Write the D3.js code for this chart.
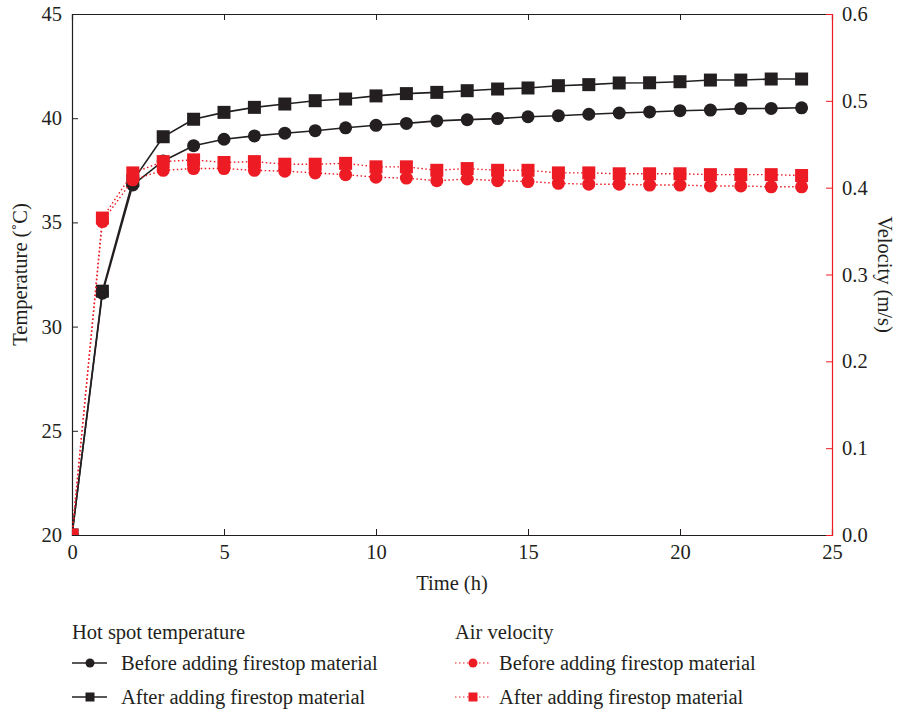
<!DOCTYPE html>
<html>
<head>
<meta charset="utf-8">
<script src="https://cdn.jsdelivr.net/npm/d3@7/dist/d3.min.js"></script>
<style>
  body { margin: 0; background: #fff; }
  svg text { font-family: "Liberation Serif", "DejaVu Serif", serif; fill: #231f20; }
</style>
</head>
<body>
<div id="chart"></div>
<script>
// --- data ---
const hours = d3.range(0, 25);
const tempBefore = [20.0, 31.6, 36.8, 37.95, 38.68, 38.99, 39.15, 39.28, 39.4, 39.54, 39.66, 39.75, 39.87, 39.93, 39.98, 40.07, 40.12, 40.19, 40.25, 40.3, 40.36, 40.39, 40.46, 40.47, 40.5];
const tempAfter = [20.0, 31.7, 37.0, 39.11, 39.95, 40.28, 40.52, 40.68, 40.84, 40.92, 41.07, 41.18, 41.24, 41.32, 41.4, 41.45, 41.56, 41.61, 41.69, 41.7, 41.75, 41.83, 41.83, 41.88, 41.88];
const velBefore = [0.0, 0.361, 0.409, 0.42, 0.422, 0.422, 0.42, 0.419, 0.417, 0.415, 0.412, 0.411, 0.408, 0.41, 0.408, 0.407, 0.405, 0.404, 0.404, 0.403, 0.403, 0.402, 0.402, 0.401, 0.401];
const velAfter = [0.0, 0.365, 0.417, 0.43, 0.432, 0.429, 0.43, 0.427, 0.427, 0.428, 0.424, 0.424, 0.42, 0.422, 0.42, 0.42, 0.417, 0.417, 0.416, 0.416, 0.416, 0.415, 0.415, 0.415, 0.414];
const xTicks = [0, 5, 10, 15, 20, 25];
const tempTicks = [20, 25, 30, 35, 40, 45];
const velTicks = [0.0, 0.1, 0.2, 0.3, 0.4, 0.5, 0.6];
const seriesNames = ["Before adding firestop material", "After adding firestop material"];

const width = 898, height = 712;
const margin = { top: 14, right: 66, bottom: 177, left: 72 };
const black = "#231f20", red = "#ed1c24";

const svg = d3.select("#chart").append("svg")
    .attr("width", width)
    .attr("height", height);

const x = d3.scaleLinear().domain([0, 25]).range([margin.left, width - margin.right]);
const yT = d3.scaleLinear().domain([20, 45]).range([height - margin.bottom, margin.top]);
const yV = d3.scaleLinear().domain([0, 0.6]).range([height - margin.bottom, margin.top]);

// clip marks to the plot frame (the t=0 markers are cut in the reference)
svg.append("clipPath").attr("id", "plot-clip")
  .append("rect")
    .attr("x", x(0)).attr("y", yT(45))
    .attr("width", x(25) - x(0)).attr("height", yT(20) - yT(45));

// --- axes (ticks point inward) ---
const fontSize = "20.5px";
const gBottom = svg.append("g")
    .attr("transform", `translate(0,${yT(20)})`)
    .call(d3.axisBottom(x).tickValues(xTicks).tickSize(-6).tickPadding(9).tickFormat(d3.format("d")));
const gTop = svg.append("g")
    .attr("transform", `translate(0,${yT(45)})`)
    .call(d3.axisTop(x).tickValues(xTicks).tickSize(-6).tickFormat(""));
const gLeft = svg.append("g")
    .attr("transform", `translate(${x(0)},0)`)
    .call(d3.axisLeft(yT).tickValues(tempTicks).tickSize(-6).tickPadding(10).tickFormat(d3.format("d")));
const gRight = svg.append("g")
    .attr("transform", `translate(${x(25)},0)`)
    .call(d3.axisRight(yV).tickValues(velTicks).tickSize(-6).tickPadding(10).tickFormat(d3.format(".1f")));

[gBottom, gTop, gLeft].forEach(g => {
    g.select(".domain").attr("stroke", black).attr("stroke-width", 1.2);
    g.selectAll(".tick line").attr("stroke", black);
    g.selectAll(".tick text").style("font-size", fontSize).attr("fill", black);
});
gRight.select(".domain").attr("stroke", red).attr("stroke-width", 1.2);
gRight.selectAll(".tick line").attr("stroke", red);
gRight.selectAll(".tick text").style("font-size", fontSize).attr("fill", black);
// hide end ticks that sit on the frame
gBottom.selectAll(".tick line").filter(d => d === 0 || d === 25).remove();
gTop.selectAll(".tick line").filter(d => d === 0 || d === 25).remove();
gLeft.selectAll(".tick line").filter(d => d === 20 || d === 45).remove();
gRight.selectAll(".tick line").filter(d => d === 0 || d === 0.6).remove();

// axis titles
svg.append("text")
    .attr("x", (x(0) + x(25)) / 2)
    .attr("y", 590)
    .attr("text-anchor", "middle")
    .style("font-size", fontSize)
    .text("Time (h)");
svg.append("text")
    .attr("transform", `translate(27,${yT(32.5)}) rotate(-90)`)
    .attr("text-anchor", "middle")
    .style("font-size", fontSize)
    .text("Temperature (˚C)");
svg.append("text")
    .attr("transform", `translate(878,${yT(32.5)}) rotate(90)`)
    .attr("text-anchor", "middle")
    .style("font-size", fontSize)
    .text("Velocity (m/s)");

// --- series ---
const series = [
    { vals: tempBefore, y: yT, color: black, shape: "circle", dotted: false },
    { vals: tempAfter, y: yT, color: black, shape: "square", dotted: false },
    { vals: velBefore, y: yV, color: red, shape: "circle", dotted: true },
    { vals: velAfter, y: yV, color: red, shape: "square", dotted: true }
];

const plot = svg.append("g").attr("clip-path", "url(#plot-clip)");

function drawMarker(g, shape, color, cx, cy) {
    if (shape === "circle") {
        g.append("circle").attr("cx", cx).attr("cy", cy).attr("r", 6.5).attr("fill", color);
    } else {
        g.append("rect").attr("x", cx - 6.5).attr("y", cy - 6.5)
            .attr("width", 13).attr("height", 13).attr("fill", color);
    }
}

// velocity is drawn last, it sits on top of temperature in the reference
series.forEach(s => {
    const line = d3.line().x((d, k) => x(hours[k])).y(d => s.y(d));
    plot.append("path")
        .datum(s.vals)
        .attr("fill", "none")
        .attr("stroke", s.color)
        .attr("stroke-width", s.dotted ? 1.4 : 1.6)
        .attr("stroke-dasharray", s.dotted ? "1.5,2.5" : null)
        .attr("d", line);
    const g = plot.append("g");
    s.vals.forEach((v, k) => drawMarker(g, s.shape, s.color, x(hours[k]), s.y(v)));
});

// --- legend ---
const legendCols = [
    { title: "Hot spot temperature", x0: 72, textX: 121, color: black, dotted: false },
    { title: "Air velocity", x0: 455, textX: 499, color: red, dotted: true }
];
legendCols.forEach(col => {
    svg.append("text")
        .attr("x", col.x0)
        .attr("y", 639)
        .style("font-size", fontSize)
        .text(col.title);
    ["circle", "square"].forEach((shape, r) => {
        const cy = 663 + r * 34;
        svg.append("line")
            .attr("x1", col.x0).attr("x2", col.x0 + 35)
            .attr("y1", cy).attr("y2", cy)
            .attr("stroke", col.color)
            .attr("stroke-width", col.dotted ? 1.2 : 1.6)
            .attr("stroke-dasharray", col.dotted ? "1.5,2.5" : null);
        const g = svg.append("g");
        if (shape === "circle") {
            g.append("circle").attr("cx", col.x0 + 18).attr("cy", cy).attr("r", 4.5).attr("fill", col.color);
        } else {
            g.append("rect").attr("x", col.x0 + 13.5).attr("y", cy - 4.5)
                .attr("width", 9).attr("height", 9).attr("fill", col.color);
        }
        svg.append("text")
            .attr("x", col.textX)
            .attr("y", cy + 7)
            .style("font-size", fontSize)
            .text(seriesNames[r]);
    });
});
</script>
</body>
</html>
